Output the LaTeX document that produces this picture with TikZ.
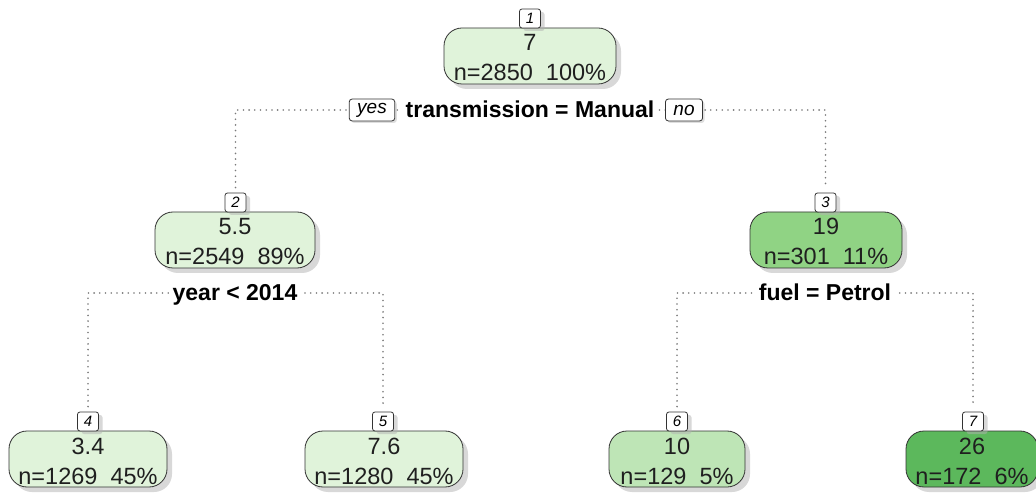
\documentclass[tikz,border=0pt]{standalone}
\usepackage{fontspec}
\setmainfont{Liberation Sans}
\usetikzlibrary{shadows}
\definecolor{gLight}{HTML}{E0F3DA}
\definecolor{gMid}{HTML}{BEE5B6}
\definecolor{gDeep}{HTML}{90D384}
\definecolor{gDark}{HTML}{5CB85C}
\definecolor{dotgray}{HTML}{7A7A7A}
\begin{document}
\begin{tikzpicture}[x=1pt,y=-1pt,
  shade/.style={drop shadow={shadow xshift=5pt,shadow yshift=-5pt,fill=black!30}},
  tbox/.style={draw=black!80,line width=0.8pt,rounded corners=18pt,
    minimum width=#1,minimum height=56pt,inner sep=0pt,shade},
  val/.style={anchor=base,inner sep=0pt,text=black!88,
    font=\fontsize{23.5}{27}\selectfont},
  numbox/.style={draw=black!80,fill=white,line width=0.8pt,rounded corners=2.5pt,
    minimum width=21pt,minimum height=19pt,inner sep=0pt,
    drop shadow={shadow xshift=4pt,shadow yshift=-3pt,fill=black!30},
    font=\fontsize{15}{16}\selectfont\itshape},
  yesno/.style={draw=black!80,fill=white,line width=0.8pt,rounded corners=3pt,
    minimum height=22pt,inner xsep=8pt,inner ysep=0pt,
    drop shadow={shadow xshift=2pt,shadow yshift=-2pt,fill=black!25},
    font=\fontsize{19}{22}\selectfont\itshape},
  splitlab/.style={anchor=base,fill=white,inner xsep=4pt,inner ysep=2pt,
    font=\fontsize{23}{27}\selectfont\bfseries},
  split/.style={draw=dotgray,line width=1.8pt,line cap=round,
    dash pattern=on 0pt off 5.7pt}
]
\useasboundingbox[fill=white] (0,0) rectangle (1036,494);

% split coordinates
\coordinate (s1) at (530,110);
\coordinate (s2) at (235,293);
\coordinate (s3) at (825,293);

% tree nodes (boxes)
\node[tbox=172pt,fill=gLight] (n1) at (530,56) {};
\node[tbox=160pt,fill=gLight] (n2) at (235,240) {};
\node[tbox=152pt,fill=gDeep]  (n3) at (826,240) {};
\node[tbox=158pt,fill=gLight] (n4) at (88,459) {};
\node[tbox=158pt,fill=gLight] (n5) at (384,459) {};
\node[tbox=136pt,fill=gMid]   (n6) at (677,459) {};
\node[tbox=132pt,fill=gDark]  (n7) at (972,459) {};

% node numbers
\node[numbox] (l1) at (530,18.5) {1};
\node[numbox] (l2) at (235.5,202.5) {2};
\node[numbox] (l3) at (825.5,202.5) {3};
\node[numbox] (l4) at (88,421.5) {4};
\node[numbox] (l5) at (383,421.5) {5};
\node[numbox] (l6) at (677,421.5) {6};
\node[numbox] (l7) at (973,421.5) {7};

% fitted values and counts
\node[val] (v1) at (530,51) {7};
\node[val] (c1) at (530,81) {n=2850~~100\%};
\node[val] (v2) at (235,235) {5.5};
\node[val] (c2) at (235,265) {n=2549~~89\%};
\node[val] (v3) at (826,235) {19};
\node[val] (c3) at (826,265) {n=301~~11\%};
\node[val] (v4) at (88,454) {3.4};
\node[val] (c4) at (88,484) {n=1269~~45\%};
\node[val] (v5) at (384,454) {7.6};
\node[val] (c5) at (384,484) {n=1280~~45\%};
\node[val] (v6) at (677,454) {10};
\node[val] (c6) at (677,484) {n=129~~5\%};
\node[val] (v7) at (972,454) {26};
\node[val] (c7) at (972,484) {n=172~~6\%};

% branches
\draw[split] (l2.north) ++(0,-5) -- (l2.north |- s1) -- (l3.north |- s1) -- ([yshift=5pt]l3.north);
\draw[split] (l4.north) ++(0,-5) -- (l4.north |- s2) -- (l5.north |- s2) -- ([yshift=5pt]l5.north);
\draw[split] (l6.north) ++(0,-5) -- (l6.north |- s3) -- (l7.north |- s3) -- ([yshift=5pt]l7.north);

% split rules
\node[splitlab] (t1) at (530,118) {transmission = Manual};
\node[yesno] (yes) at (372,110) {yes};
\node[yesno] (no) at (684,110) {no};
\node[splitlab] (t2) at (235,301) {year < 2014};
\node[splitlab] (t3) at (825,301) {fuel = Petrol};
\end{tikzpicture}
\end{document}
